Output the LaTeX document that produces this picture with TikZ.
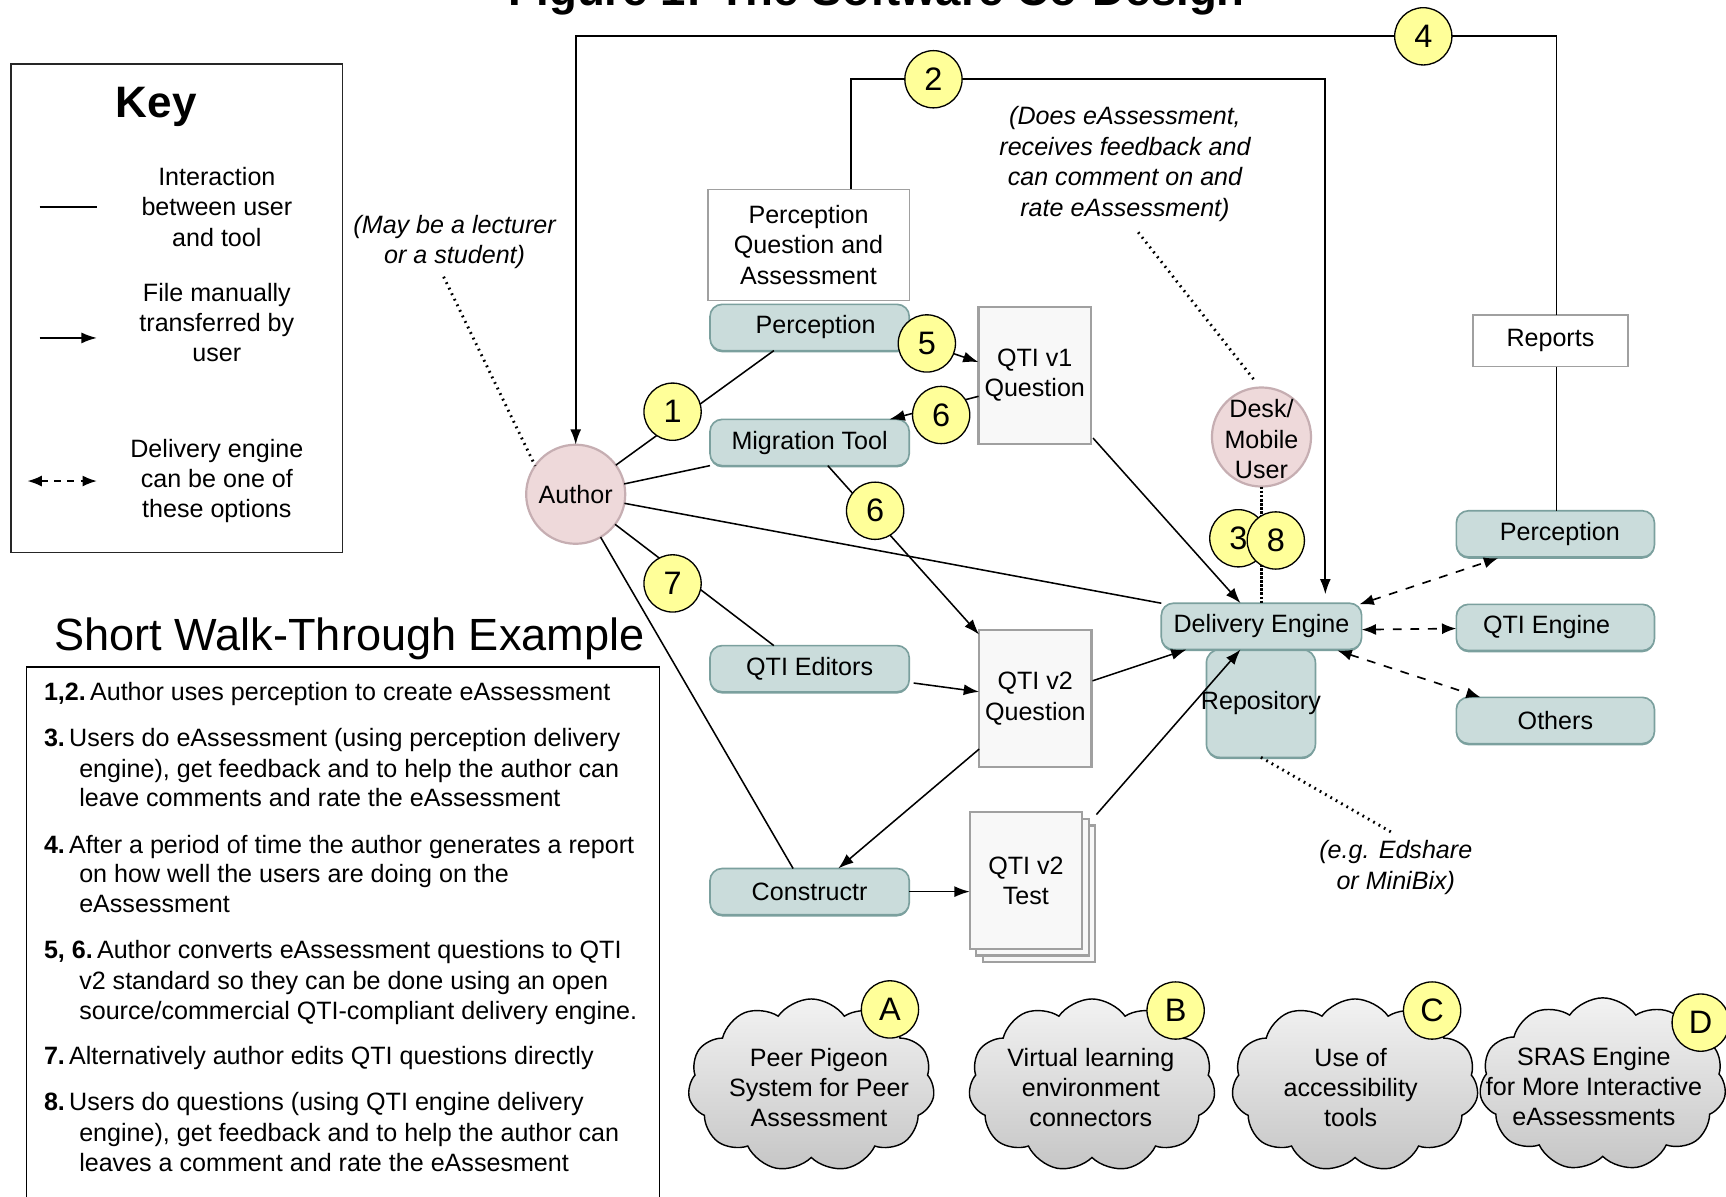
\documentclass[tikz,border=0pt]{standalone}
\usepackage{fontspec}
\setmainfont{Liberation Sans}
\usetikzlibrary{arrows.meta,shapes.geometric,shapes.symbols,calc,shadows}
\definecolor{tealf}{HTML}{CADCDB}
\definecolor{tealb}{HTML}{7BA09E}
\definecolor{pinkf}{HTML}{EED9DA}
\definecolor{pinkb}{HTML}{C6AEB2}
\definecolor{yel}{HTML}{FFFF99}
\definecolor{boxf}{HTML}{F8F8F8}
\definecolor{boxb}{HTML}{A0A0A0}
\newcommand\bodyf{\fontsize{22.8}{27.6}\selectfont}
\newcommand\numf{\fontsize{29.5}{29.5}\selectfont}
\begin{document}
\begin{tikzpicture}[x=1pt,y=-1pt,
  every node/.style={font=\bodyf, inner sep=0pt, outer sep=0pt},
  tealbox/.style={draw=tealb, fill=tealf, line width=1.5pt, rounded corners=11pt,
    minimum width=181pt, minimum height=42pt,
    drop shadow={shadow xshift=0pt, shadow yshift=-1.6pt, fill=tealb, opacity=1}},
  whitebox/.style={draw=boxb, fill=white, line width=1.3pt},
  qbox/.style={draw=boxb, fill=boxf, line width=2pt, minimum width=102pt, minimum height=124pt, align=center},
  badge/.style={circle, draw=black, fill=yel, line width=1.2pt, minimum size=52pt, font=\numf},
  person/.style={circle, draw=pinkb, fill=pinkf, line width=2pt, minimum size=90pt},
  link/.style={line width=1.4pt},
  toplink/.style={line width=1.7pt},
  arr/.style={-{Latex[length=14pt,width=10pt]}},
  dash2/.style={{Latex[length=13pt,width=10pt]}-{Latex[length=13pt,width=10pt]}, line width=1.5pt, dash pattern=on 8pt off 8pt},
  note/.style={font=\bodyf\itshape, align=center},
  dotl/.style={line width=2.6pt, dash pattern=on 1.6pt off 4pt},
  cloudst/.style={cloud, cloud puffs=11, cloud puff arc=110, cloud ignores aspect,
    minimum width=224pt, minimum height=157pt, draw=black, line width=1.3pt,
    top color=gray!10, bottom color=gray!45}
]
\useasboundingbox (0,0) rectangle (1568,1087);
\fill[white] (0,0) rectangle (1568,1087);

% title
\node[font=\fontsize{41.4}{41.4}\selectfont\bfseries, anchor=base] (title) at (796.5,5) {Figure 1: The Software Co-Design};

% key
\node[draw=black!85, line width=1.3pt, minimum width=301pt, minimum height=444pt] (key) at (160.5,280) {};
\node[font=\fontsize{40}{40}\selectfont\bfseries, anchor=base] (keyt) at (142,107) {Key};
\node[align=center] (k1) at (197,188) {Interaction\\between user\\and tool};
\node[align=center] (k2) at (197,293) {File manually\\transferred by\\user};
\node[align=center] (k3) at (197,437) {Delivery engine\\can be one of\\these options};
\coordinate (k1a) at (36,188); \coordinate (k1b) at (88,188);
\coordinate (k2a) at (36,307); \coordinate (k2b) at (88,307);
\coordinate (k3a) at (25,437); \coordinate (k3b) at (88,437);
\draw[link] (k1a) -- (k1b);
\draw[link,arr] (k2a) -- (k2b);
\draw[dash2, dash pattern=on 6pt off 6pt] (k3a) -- (k3b);

% walk-through
\node[font=\fontsize{41}{41}\selectfont, anchor=base] (wt) at (317.5,590.5) {Short Walk-Through Example};
\node[draw, line width=1.3pt, anchor=north west, minimum width=575pt, minimum height=540pt] (wbox) at (24,606) {};
\node[anchor=base west] (w1) at (40,636) {\textbf{1,2.}\,Author uses perception to create eAssessment};
\node[anchor=base west] (w2) at (40,678) {\textbf{3.}\,Users do eAssessment (using perception delivery};
\node[anchor=base west] (w3) at (72,706) {engine), get feedback and to help the author can};
\node[anchor=base west] (w4) at (72,733) {leave comments and rate the eAssessment};
\node[anchor=base west] (w5) at (40,775) {\textbf{4.}\,After a period of time the author generates a report};
\node[anchor=base west] (w6) at (72,802) {on how well the users are doing on the};
\node[anchor=base west] (w7) at (72,829) {eAssessment};
\node[anchor=base west] (w8) at (40,871) {\textbf{5, 6.}\,Author converts eAssessment questions to QTI};
\node[anchor=base west] (w9) at (72,899) {v2 standard so they can be done using an open};
\node[anchor=base west] (w10) at (72,926) {source/commercial QTI-compliant delivery engine.};
\node[anchor=base west] (w11) at (40,967) {\textbf{7.}\,Alternatively author edits QTI questions directly};
\node[anchor=base west] (w12) at (40,1009) {\textbf{8.}\,Users do questions (using QTI engine delivery};
\node[anchor=base west] (w13) at (72,1037) {engine), get feedback and to help the author can};
\node[anchor=base west] (w14) at (72,1064) {leaves a comment and rate the eAssesment};

% notes
\node[note] (n1) at (413,220) {(May be a lecturer\\or a student)};
\node[note] (n2) at (1022,149) {(Does eAssessment,\\receives feedback and\\can comment on and\\rate eAssessment)};
\node[note] (n3) at (1268,788) {(e.g. Edshare\\or MiniBix)};

% main nodes
\node[whitebox, minimum width=183pt, minimum height=101pt, align=center] (ptop) at (734.5,222.5) {Perception\\Question and\\Assessment};
\node[tealbox] (perc) at (735.5,297.5) {\hspace*{11pt}Perception};
\node[tealbox] (mig) at (735.5,402) {Migration Tool};
\node[tealbox] (qed) at (735.5,607.5) {QTI Editors};
\node[tealbox] (con) at (735.5,810) {Constructr};
\node[qbox] (qv1) at (940,341) {QTI v1\\Question};
\node[qbox] (qv2) at (940.5,634.5) {QTI v2\\Question};
\node[qbox] (qt3) at (944,812) {};
\node[qbox] (qt2) at (938,806) {};
\node[qbox] (qtest) at (932,800) {QTI v2\\Test};
\node[tealbox, minimum width=99pt, minimum height=98pt, rounded corners=12pt] (repo) at (1145.5,639) {};
\node (repot) at (1145.5,639) {Repository};
\node[tealbox, minimum width=182pt] (de) at (1146,569) {Delivery Engine};
\node[person] (author) at (523,449) {Author};
\node[person] (desk) at (1146,397) {};
\node[align=center] (deskt) at (1146,399) {Desk/\\Mobile\\User};
\node[whitebox, minimum width=141pt, minimum height=47pt] (reports) at (1408.5,309.5) {Reports};
\node[tealbox, minimum width=180pt] (rperc) at (1413,485) {\hspace*{8pt}Perception};
\node[tealbox, minimum width=180pt] (qeng) at (1413,570) {QTI Engine\hspace*{16pt}};
\node[tealbox, minimum width=180pt] (others) at (1413,654.5) {Others};

% connectors
\coordinate (c2a) at (773,72); \coordinate (c2b) at (1204,72);
\draw[toplink,arr,shorten >=8pt] ($(ptop.north)+(38.5,0)$) -- (c2a) -- (c2b) -- (c2b |- de.north);
\coordinate (c4a) at (1414,33); \coordinate (c4b) at (523,33);
\draw[toplink,arr] (reports.north -| c4a) -- (c4a) -- (c4b) -- (author.north);
\draw[link] (reports.south -| c4a) -- (c4a |- rperc.north);

\draw[link] (author) -- ($(perc.south)+(-32.5,0)$);
\draw[link] (author) -- (mig.south west);
\draw[link] (author) -- (de.north west);
\draw[link] (author) -- ($(qed.north)+(-32.5,0)$);
\draw[link] (author) -- ($(con.north)+(-15,0)$);

\draw[link,arr] ($(perc.east)+(0,10)$) -- ($(qv1.west)+(0,-12)$);
\draw[link,arr] ($(qv1.west)+(0,19)$) -- ($(mig.north east)+(-18,0)$);
\draw[link,arr] ($(mig.south)+(16.5,0)$) -- ($(qv2.north west)+(0,4)$);
\draw[link,arr] ($(qed.east)+(4,13)$) -- ($(qv2.west)+(0,-6)$);
\draw[link,arr] ($(qv2.west)+(0,46)$) -- ($(con.north)+(26,0)$);
\draw[link,arr] (con.east) -- (con.east -| qtest.west);
\draw[link,arr] ($(qt3.north east)+(1,-10)$) -- ($(de.south)+(-19,0)$);
\draw[link,arr] ($(qv1.south east)+(2,-5)$) -- ($(de.north)+(-19,0)$);
\draw[link,arr] ($(qv2.east)+(1,-16)$) -- ($(de.south west)+(23,0)$);
\draw[line width=2.2pt, dash pattern=on 2.5pt off 1.2pt] (desk.south) -- (desk.south |- de.north);

\draw[dash2] ($(de.north east)+(-2,1)$) -- ($(rperc.south)+(-52,1)$);
\draw[dash2] ($(de.east)+(0,3)$) -- ($(qeng.west)+(0,1)$);
\draw[dash2] ($(de.south east)+(-22,1)$) -- ($(others.north west)+(22,0)$);

\draw[dotl] ($(n1.south)+(-10,7)$) -- (author.145);
\draw[dotl] ($(n2.south)+(12,10)$) -- ($(desk.north)+(-6,-6)$);
\draw[dotl] (repo.south) -- ($(n3.north)+(-3,-7)$);

% badges
\node[badge] (b4) at (1293,33) {4};
\node[badge] (b2) at (848,72) {2};
\node[badge] (b1) at (611,374) {1};
\node[badge] (b5) at (842,312) {5};
\node[badge] (b6a) at (855,377) {6};
\node[badge] (b6b) at (795,464) {6};
\node[badge] (b7) at (611,530) {7};
\node[badge] (b3) at (1125,489) {3};
\node[badge] (b8) at (1159,491) {8};

% clouds
\node[cloudst] (ca) at (737,986) {};
\node[cloudst] (cb) at (992,986) {};
\node[cloudst] (cc) at (1231,986) {};
\node[cloudst] (cd) at (1456,985) {};
\node[align=center] (ta) at (744,988) {Peer Pigeon\\System for Peer\\Assessment};
\node[align=center] (tb) at (991,988) {Virtual learning\\environment\\connectors};
\node[align=center] (tc) at (1227,988) {Use of\\accessibility\\tools};
\node[align=center] (td) at (1448,987) {SRAS Engine\\for More Interactive\\eAssessments};
\node[badge] (ba) at (808.5,917) {A};
\node[badge] (bb) at (1068,918) {B};
\node[badge] (bc) at (1301,918) {C};
\node[badge] (bd) at (1545,929) {D};
\end{tikzpicture}
\end{document}
